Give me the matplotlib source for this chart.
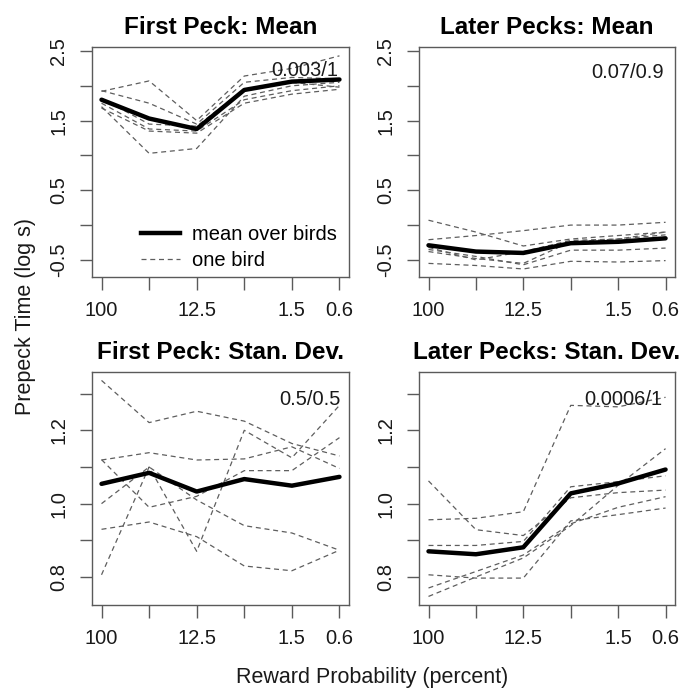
import numpy as np
import matplotlib
matplotlib.use("Agg")
import matplotlib.pyplot as plt

plt.rcParams['font.family'] = ['Liberation Sans', 'DejaVu Sans']

# reward probability conditions (6 equally spaced conditions)
x_pos = [0, 1, 2, 3, 4, 5]
tick_labels = ["100", "", "12.5", "", "1.5", "0.6"]

# First Peck: Mean (log s)
fp_mean_avg = [1.80, 1.53, 1.38, 1.94, 2.06, 2.09]
fp_mean_birds = [
    [1.92, 2.07, 1.50, 2.14, 2.25, 2.43],
    [1.93, 1.75, 1.45, 2.05, 2.12, 2.10],
    [1.70, 1.03, 1.10, 1.85, 2.00, 2.05],
    [1.75, 1.38, 1.35, 1.80, 1.93, 2.00],
    [1.68, 1.35, 1.32, 1.75, 1.88, 1.95],
    [1.82, 1.45, 1.42, 1.95, 2.05, 1.98],
]

# Later Pecks: Mean (log s)
lp_mean_avg = [-0.29, -0.38, -0.40, -0.26, -0.24, -0.19]
lp_mean_birds = [
    [0.07, -0.10, -0.30, -0.20, -0.15, -0.10],
    [-0.21, -0.15, -0.08, 0.00, 0.00, 0.04],
    [-0.35, -0.45, -0.57, -0.36, -0.36, -0.33],
    [-0.55, -0.58, -0.63, -0.52, -0.53, -0.51],
    [-0.38, -0.48, -0.55, -0.24, -0.20, -0.10],
    [-0.32, -0.50, -0.38, -0.22, -0.20, -0.14],
]

# First Peck: Stan. Dev.
fp_sd_avg = [1.054, 1.084, 1.033, 1.067, 1.049, 1.073]
fp_sd_birds = [
    [1.336, 1.221, 1.252, 1.225, 1.164, 1.130],
    [1.119, 1.139, 1.119, 1.122, 1.155, 1.096],
    [0.806, 1.100, 0.870, 1.200, 1.125, 1.268],
    [1.120, 0.990, 1.020, 1.090, 1.090, 1.180],
    [1.000, 1.100, 1.010, 0.940, 0.920, 0.873],
    [0.930, 0.950, 0.910, 0.830, 0.817, 0.873],
]

# Later Pecks: Stan. Dev.
lp_sd_avg = [0.870, 0.862, 0.881, 1.028, 1.055, 1.093]
lp_sd_birds = [
    [1.062, 0.929, 0.913, 1.016, 1.030, 1.037],
    [0.956, 0.960, 0.978, 1.268, 1.264, 1.290],
    [0.886, 0.886, 0.897, 1.046, 1.060, 1.076],
    [0.806, 0.797, 0.797, 0.953, 0.970, 0.988],
    [0.770, 0.815, 0.860, 0.945, 0.990, 1.019],
    [0.747, 0.800, 0.852, 0.940, 1.050, 1.150],
]

titles = ["First Peck: Mean", "Later Pecks: Mean",
          "First Peck: Stan. Dev.", "Later Pecks: Stan. Dev."]
p_texts = ["0.003/1", "0.07/0.9", "0.5/0.5", "0.0006/1"]

fig = plt.figure(figsize=(6.84, 6.89), dpi=100)

# axes boxes in figure fractions [left, bottom, width, height]
boxes = [
    [0.1345, 0.598, 0.3757, 0.3338],
    [0.6126, 0.598, 0.3743, 0.3338],
    [0.1345, 0.1219, 0.3757, 0.3382],
    [0.6126, 0.1219, 0.3743, 0.3382],
]
avgs = [fp_mean_avg, lp_mean_avg, fp_sd_avg, lp_sd_avg]
birds = [fp_mean_birds, lp_mean_birds, fp_sd_birds, lp_sd_birds]
p_pos = [(0.96, 0.897), (0.957, 0.891), (0.969, 0.884), (0.949, 0.88)]

box_col = "#5a5a5a"
dash_col = "#5e5e5e"

for i in range(4):
    ax = fig.add_axes(boxes[i])
    for b in birds[i]:
        ax.plot(x_pos, b, color=dash_col, lw=0.9, dashes=(4, 3))
    ax.plot(x_pos, avgs[i], color="black", lw=3.2, solid_capstyle="round")

    ax.set_xlim(-0.2, 5.2)
    if i < 2:
        ax.set_ylim(-0.745, 2.557)
        ax.set_yticks([-0.5, 0, 0.5, 1.0, 1.5, 2.0, 2.5])
        ax.set_yticklabels(["-0.5", "", "0.5", "", "1.5", "", "2.5"])
    else:
        ax.set_ylim(0.7236, 1.359)
        ax.set_yticks([0.8, 0.9, 1.0, 1.1, 1.2, 1.3])
        ax.set_yticklabels(["0.8", "", "1.0", "", "1.2", ""])
    ax.set_xticks(x_pos)
    ax.set_xticklabels(tick_labels)

    for lab in ax.get_yticklabels():
        lab.set_rotation(90)
        lab.set_va("center")
    ax.tick_params(axis="both", direction="out", length=9, width=1,
                   color=box_col, labelsize=14.5, labelcolor="#1a1a1a", pad=8)
    for sp in ax.spines.values():
        sp.set_color(box_col)
        sp.set_linewidth(1.0)

    ax.set_title(titles[i], fontsize=17.5, fontweight="bold", pad=9)
    ax.text(p_pos[i][0], p_pos[i][1], p_texts[i], transform=ax.transAxes,
            ha="right", va="center", fontsize=14.5, color="#1a1a1a")

    if i == 0:
        ax.plot([], [], color="black", lw=3.2, label="mean over birds")
        ax.plot([], [], color=dash_col, lw=0.9, dashes=(4, 3), label="one bird")
        ax.legend(loc="upper left", bbox_to_anchor=(0.19, 0.225), frameon=False,
                  fontsize=14.5, handlelength=1.95, handletextpad=0.6,
                  borderpad=0, borderaxespad=0, labelspacing=0.35)

fig.text(0.038, 0.541, "Prepeck Time (log s)", rotation=90, ha="center",
         va="center", fontsize=15.5, color="#1a1a1a")
fig.text(0.544, 0.017, "Reward Probability (percent)", ha="center",
         va="center", fontsize=15.5, color="#1a1a1a")

fig.savefig("out.png", dpi=100)
